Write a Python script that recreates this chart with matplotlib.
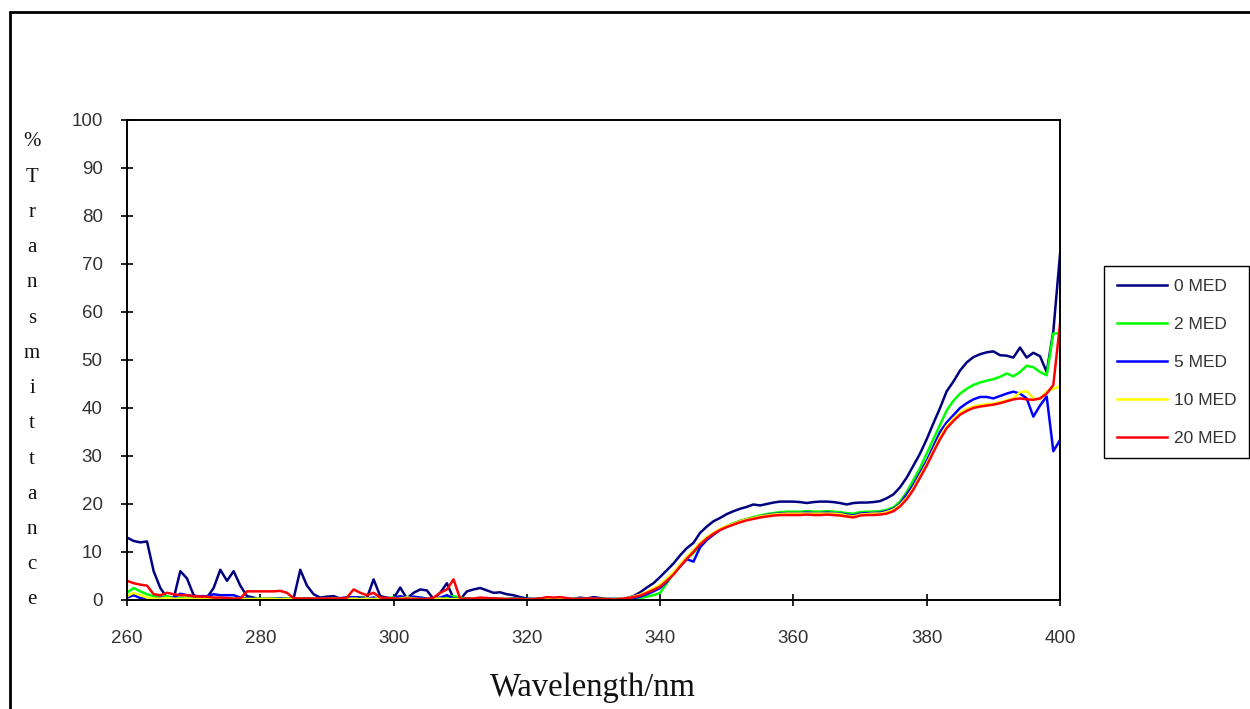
"""
% Transmittance vs wavelength for different MED exposures.
"""
import matplotlib
matplotlib.use("Agg")
import matplotlib.pyplot as plt
from matplotlib.patches import Rectangle
import numpy as np

wavelength = np.arange(260, 401)

med_0 = [
    13.0, 12.3, 12.0, 12.2, 6.0, 2.5, 0.5, 0.3, 6.0, 4.5,
    1.0, 0.5, 0.5, 2.5, 6.3, 4.0, 6.0, 3.0, 0.8, 0.5,
    0.0, 0.3, 0.2, 0.3, 0.2, 0.3, 6.3, 3.0, 1.2, 0.5,
    0.7, 0.8, 0.3, 0.5, 0.5, 0.6, 0.4, 4.3, 0.8, 0.5,
    0.3, 2.6, 0.3, 1.5, 2.2, 2.0, 0.2, 1.5, 3.5, 0.3,
    0.1, 1.8, 2.2, 2.5, 2.0, 1.5, 1.6, 1.2, 1.0, 0.6,
    0.3, 0.2, 0.2, 0.2, 0.3, 0.4, 0.2, 0.2, 0.5, 0.3,
    0.6, 0.4, 0.2, 0.2, 0.2, 0.4, 0.8, 1.6, 2.6, 3.5,
    4.8, 6.2, 7.6, 9.3, 10.8, 11.9, 14.0, 15.3, 16.4, 17.1,
    17.9, 18.5, 19.0, 19.4, 19.9, 19.7, 20.0, 20.3, 20.5, 20.5,
    20.5, 20.4, 20.2, 20.4, 20.5, 20.5, 20.4, 20.2, 19.9, 20.2,
    20.3, 20.3, 20.4, 20.6, 21.2, 22.0, 23.5, 25.5, 28.0, 30.5,
    33.5, 36.8, 40.0, 43.5, 45.5, 47.8, 49.5, 50.6, 51.2, 51.6,
    51.8, 51.0, 50.9, 50.5, 52.6, 50.5, 51.5, 50.8, 47.5, 56.0,
    72.0,
]

med_2 = [
    1.5, 2.5, 1.8, 1.2, 0.8, 0.6, 0.8, 0.4, 0.5, 0.4,
    0.4, 0.3, 0.2, 0.3, 0.4, 0.3, 0.2, 0.3, 0.3, 0.2,
    0.3, 0.2, 0.3, 0.2, 0.3, 0.2, 0.3, 0.4, 0.3, 0.2,
    0.3, 0.2, 0.3, 0.4, 0.3, 0.5, 0.3, 0.4, 0.3, 0.2,
    0.6, 0.5, 0.6, 0.4, 0.5, 0.3, 0.2, 0.4, 0.6, 0.8,
    0.5, 0.3, 0.2, 0.3, 0.2, 0.3, 0.2, 0.2, 0.3, 0.2,
    0.2, 0.2, 0.3, 0.2, 0.2, 0.3, 0.2, 0.2, 0.3, 0.2,
    0.2, 0.2, 0.2, 0.2, 0.2, 0.2, 0.3, 0.4, 0.7, 1.0,
    1.5, 3.5, 5.5, 7.3, 8.5, 9.8, 11.4, 12.8, 13.8, 14.7,
    15.4, 16.0, 16.5, 16.9, 17.3, 17.6, 17.9, 18.1, 18.3, 18.4,
    18.4, 18.4, 18.5, 18.4, 18.4, 18.5, 18.4, 18.3, 18.1, 18.0,
    18.3, 18.4, 18.4, 18.5, 18.8, 19.3, 20.5, 22.5, 25.0, 27.5,
    30.5, 33.5, 36.5, 39.5, 41.5, 43.0, 44.0, 44.8, 45.3, 45.7,
    46.0, 46.5, 47.2, 46.6, 47.5, 48.8, 48.5, 47.5, 46.8, 55.5,
    55.6,
]

med_5 = [
    0.5, 1.0, 0.4, 0.3, 0.2, 0.5, 0.3, 0.5, 1.3, 1.0,
    0.8, 0.8, 0.8, 1.2, 1.0, 1.0, 1.0, 0.5, 0.3, 0.2,
    0.2, 0.3, 0.2, 0.3, 0.2, 0.3, 0.2, 0.3, 0.2, 0.3,
    0.3, 0.2, 0.4, 0.5, 0.6, 0.4, 0.3, 0.5, 0.3, 0.2,
    0.4, 0.8, 0.4, 0.7, 0.5, 0.3, 0.2, 0.5, 1.0, 0.3,
    0.2, 0.3, 0.2, 0.3, 0.4, 0.3, 0.2, 0.2, 0.3, 0.2,
    0.2, 0.2, 0.3, 0.2, 0.3, 0.4, 0.3, 0.2, 0.3, 0.2,
    0.3, 0.2, 0.2, 0.2, 0.2, 0.2, 0.4, 0.7, 1.2, 1.8,
    2.5, 3.8, 5.5, 7.0, 8.5, 8.0, 11.0, 12.5, 13.6, 14.6,
    15.3, 15.9, 16.4, 16.8, 17.1, 17.4, 17.7, 17.9, 18.0, 18.1,
    18.1, 18.1, 18.2, 18.1, 18.1, 18.2, 18.1, 18.0, 17.8, 17.6,
    18.0, 18.1, 18.1, 18.2, 18.5, 19.0, 20.0, 22.0, 24.0, 26.5,
    29.0, 32.0, 35.0, 37.0, 38.5, 40.0, 41.0, 41.8, 42.3, 42.3,
    42.0, 42.5, 43.0, 43.4, 43.0, 42.0, 38.2, 40.5, 42.4, 31.0,
    33.3,
]

med_10 = [
    0.8, 1.5, 1.0, 0.5, 0.3, 0.3, 0.4, 0.3, 0.2, 0.3,
    0.2, 0.3, 0.2, 0.2, 0.3, 0.2, 0.2, 0.3, 0.2, 0.2,
    0.2, 0.3, 0.2, 0.2, 0.2, 0.3, 0.2, 0.2, 0.2, 0.2,
    0.2, 0.3, 0.2, 0.2, 0.3, 0.2, 0.3, 0.2, 0.4, 0.3,
    0.2, 0.3, 0.5, 0.3, 0.2, 0.2, 0.3, 0.3, 0.2, 0.2,
    0.2, 0.2, 0.2, 0.3, 0.2, 0.2, 0.2, 0.2, 0.2, 0.2,
    0.1, 0.2, 0.2, 0.3, 0.2, 0.3, 0.2, 0.2, 0.2, 0.2,
    0.2, 0.2, 0.2, 0.1, 0.2, 0.4, 0.7, 1.1, 1.7, 2.4,
    3.2, 4.4, 5.8, 7.4, 9.0, 10.4, 11.9, 13.1, 14.0, 14.8,
    15.4, 15.9, 16.4, 16.8, 17.1, 17.4, 17.6, 17.8, 17.9, 18.0,
    18.0, 18.0, 18.0, 18.0, 18.0, 18.0, 18.0, 17.9, 17.6, 17.4,
    17.8, 17.9, 18.0, 18.0, 18.3, 18.8, 19.8, 21.3, 23.4, 25.9,
    28.4, 31.2, 34.0, 36.3, 37.8, 39.0, 39.8, 40.3, 40.6, 40.8,
    40.9, 41.2, 41.6, 42.0, 43.3, 43.5, 42.0, 41.8, 43.5, 44.0,
    44.5,
]

med_20 = [
    4.0, 3.5, 3.2, 3.0, 1.2, 1.0, 1.5, 1.2, 1.0, 1.0,
    0.8, 0.7, 0.7, 0.5, 0.5, 0.4, 0.3, 0.3, 1.8, 1.8,
    1.8, 1.8, 1.8, 1.9, 1.5, 0.4, 0.3, 0.3, 0.3, 0.3,
    0.3, 0.3, 0.3, 0.5, 2.2, 1.5, 1.0, 1.5, 0.5, 0.4,
    0.3, 0.2, 0.3, 0.2, 0.2, 0.2, 0.5, 1.5, 2.2, 4.3,
    0.2, 0.3, 0.3, 0.5, 0.4, 0.3, 0.3, 0.2, 0.2, 0.2,
    0.1, 0.2, 0.3, 0.6, 0.5, 0.6, 0.4, 0.2, 0.2, 0.3,
    0.3, 0.2, 0.2, 0.1, 0.2, 0.4, 0.6, 0.9, 1.5, 2.1,
    2.8, 4.0, 5.3, 7.0, 8.6, 10.0, 11.6, 12.8, 13.8, 14.6,
    15.2, 15.7, 16.2, 16.6, 16.9, 17.2, 17.4, 17.6, 17.7, 17.7,
    17.7, 17.7, 17.8, 17.7, 17.7, 17.8, 17.7, 17.6, 17.4, 17.2,
    17.6, 17.7, 17.7, 17.8, 18.0, 18.5, 19.5, 21.0, 23.0, 25.5,
    28.0, 30.8, 33.5, 35.8, 37.3, 38.6, 39.4, 40.0, 40.3, 40.5,
    40.7, 41.0, 41.4, 41.8, 42.0, 41.8, 41.7, 42.0, 43.0, 44.8,
    57.5,
]

series = [med_0, med_2, med_5, med_10, med_20]
labels = ["0 MED", "2 MED", "5 MED", "10 MED", "20 MED"]
colors = ["#000080", "#00ff00", "#0000ff", "#ffff00", "#ff0000"]

fig = plt.figure(figsize=(12.5, 7.09), dpi=100)
fig.patch.set_facecolor("white")

# outer chart border (cut off at right and bottom in the original)
fig.patches.append(Rectangle((10 / 1250, -0.1), 2.0, (709 - 12) / 709 + 0.1,
                             transform=fig.transFigure, fill=False,
                             edgecolor="black", linewidth=2.0))

ax = fig.add_axes([127 / 1250, 1 - 600 / 709, (1060 - 127) / 1250, (600 - 120) / 709])
for y, lab, c in zip(series, labels, colors):
    ax.plot(wavelength, y, color=c, linewidth=1.8, label=lab)

ax.set_xlim(260, 400)
ax.set_ylim(0, 100)
ax.set_xticks(np.arange(260, 401, 20))
ax.set_yticks(np.arange(0, 101, 10))
for s in ax.spines.values():
    s.set_linewidth(1.4)
ax.tick_params(axis="x", direction="inout", length=8, width=1.2, pad=17.5,
               labelsize=13.5, labelcolor="#333333")
ax.tick_params(axis="y", direction="inout", length=8, width=1.2, pad=13.5,
               labelsize=13.5, labelcolor="#333333")
for t in ax.get_xticklabels() + ax.get_yticklabels():
    t.set_fontfamily("Liberation Sans")

# stacked vertical y-axis title
ylab = "%Transmittance"
tops = np.linspace(142, 600, len(ylab))
for ch, yp in zip(ylab, tops):
    fig.text(32 / 1250, 1 - yp / 709, ch, ha="center", va="center",
             fontsize=15, family="Liberation Serif", color="#111111")

fig.text(593 / 1250, 1 - 688 / 709, "Wavelength/nm", ha="center", va="center",
         fontsize=23.5, family="Liberation Serif", color="#111111")

leg = ax.legend(loc="upper left", bbox_to_anchor=(1104 / 1250, 1 - 266 / 709),
                bbox_transform=fig.transFigure, borderaxespad=0, fancybox=False,
                frameon=True, edgecolor="black", framealpha=1,
                prop={"family": "Liberation Sans", "size": 12.5},
                handlelength=2.9, handletextpad=0.4, labelspacing=1.32,
                borderpad=0.72)
leg.get_frame().set_linewidth(1.0)
for txt in leg.get_texts():
    txt.set_color("#333333")

fig.savefig("out.png", dpi=100)
